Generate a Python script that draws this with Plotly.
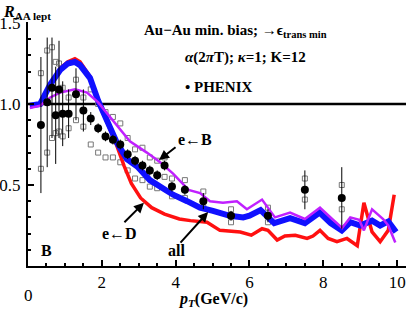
import plotly.graph_objects as go

# theory curves (R_AA of non-photonic electrons)
all_pt = [0.05, 0.33, 0.6, 0.87, 1.08, 1.27, 1.41, 1.68, 1.9, 2.14, 2.41, 2.68, 2.98, 3.3, 3.58,
          3.93, 4.31, 4.66, 5.01, 5.47, 5.83, 6.0, 6.3, 6.67, 7.1, 7.5, 7.9, 8.2, 8.5, 8.73,
          9.0, 9.32, 9.54, 9.76, 9.97]
all_raa = [0.99, 1.0, 1.12, 1.21, 1.25, 1.26, 1.24, 1.16, 1.02, 0.9, 0.76, 0.66, 0.61, 0.53, 0.49,
           0.44, 0.4, 0.36, 0.34, 0.31, 0.3, 0.31, 0.345, 0.265, 0.295, 0.265, 0.33, 0.265, 0.22, 0.27,
           0.25, 0.28, 0.25, 0.275, 0.21]

d_pt = [0.05, 0.33, 0.6, 0.87, 1.08, 1.27, 1.41, 1.68, 1.9, 2.14, 2.41, 2.6, 2.8, 3.05, 3.35,
        3.7, 4.1, 4.4, 4.85, 5.2, 5.75, 6.05, 6.34, 6.5, 6.75, 6.96, 7.24, 7.56, 7.72, 7.91,
        8.13, 8.37, 8.64, 8.92, 9.1, 9.32, 9.54, 9.76, 9.92]
d_raa = [0.99, 1.0, 1.12, 1.22, 1.26, 1.28, 1.26, 1.17, 1.02, 0.89, 0.74, 0.62, 0.51, 0.42, 0.36,
         0.32, 0.29, 0.28, 0.27, 0.22, 0.21, 0.19, 0.23, 0.22, 0.16, 0.185, 0.19, 0.17, 0.185, 0.22,
         0.17, 0.15, 0.17, 0.125, 0.39, 0.21, 0.15, 0.22, 0.44]

b_pt = [0.05, 0.33, 0.6, 0.87, 1.27, 1.6, 1.9, 2.22, 2.49, 2.76, 3.22, 3.58, 3.93, 4.35, 4.66,
        4.93, 5.28, 5.66, 5.93, 6.34, 6.69, 7.1, 7.5, 7.91, 8.24, 8.51, 8.73, 8.97, 9.1, 9.32,
        9.62, 9.76, 9.95]
b_raa = [0.975, 0.99, 1.04, 1.07, 1.09, 1.07, 1.01, 0.92, 0.85, 0.77, 0.7, 0.64, 0.57, 0.47, 0.45,
         0.4, 0.39, 0.4, 0.35, 0.41, 0.3, 0.33, 0.29, 0.36, 0.29, 0.235, 0.3, 0.285, 0.22, 0.35,
         0.29, 0.25, 0.145]

# PHENIX data
ph_pt = [0.35, 0.52, 0.65, 0.75, 0.84, 0.94, 1.1, 1.3, 1.5, 1.7, 1.9, 2.1, 2.3, 2.5, 2.7, 2.9,
         3.1, 3.3, 3.5, 3.7, 3.9, 4.25, 4.75, 5.5, 6.5, 7.5, 8.5]
ph_raa = [0.87, 1.01, 1.1, 0.93, 1.09, 0.94, 0.94, 1.06, 0.96, 0.91, 0.85, 0.8, 0.78, 0.75, 0.69,
          0.65, 0.62, 0.59, 0.56, 0.62, 0.49, 0.47, 0.4, 0.31, 0.31, 0.47, 0.42]
ph_err = [0.42, 0.4, 0.31, 0.3, 0.3, 0.2, 0.15, 0.16, 0.13, 0.04, 0.03, 0.03, 0.03, 0.03, 0.03,
          0.03, 0.03, 0.03, 0.03, 0.03, 0.03, 0.03, 0.05, 0.03, 0.04, 0.12, 0.19]
sys_hi = [1.19, 1.33, 1.35, 1.26, 1.25, 1.1, 1.04, 1.15, 1.04, 1.09, 1.0, 0.95, 0.92, 0.88, 0.79,
          0.72, 0.73, 0.67, 0.65, 0.67, 0.54, 0.53, 0.46, 0.35, 0.36, 0.54, 0.5]
sys_lo = [0.6, 0.7, 0.79, 0.82, 0.83, 0.8, 0.85, 0.9, 0.86, 0.75, 0.7, 0.67, 0.67, 0.64, 0.59,
          0.54, 0.53, 0.49, 0.48, 0.55, 0.43, 0.42, 0.36, 0.27, 0.27, 0.41, 0.35]

x_ticks = [2, 4, 6, 8, 10]
y_ticks = [0.5, 1.0, 1.5]
y_ticktext = ["0.5", "1.0", "1.5"]

FONT = "Liberation Serif"

fig = go.Figure()

# reference line at 1
fig.add_trace(go.Scatter(x=[0, 10.3], y=[1, 1], mode="lines",
                         line=dict(color="black", width=2.5), hoverinfo="skip"))

# systematic brackets
fig.add_trace(go.Scatter(x=ph_pt + ph_pt, y=sys_hi + sys_lo, mode="markers",
                         marker=dict(symbol="square-open", size=5, color="#777777",
                                     line=dict(width=1, color="#777777"))))

fig.add_trace(go.Scatter(x=d_pt, y=d_raa, mode="lines", line=dict(color="#ff1010", width=3.5)))
fig.add_trace(go.Scatter(x=all_pt, y=all_raa, mode="lines", line=dict(color="#1010ff", width=6)))
fig.add_trace(go.Scatter(x=b_pt, y=b_raa, mode="lines", line=dict(color="#c020ff", width=2.5)))

fig.add_trace(go.Scatter(x=ph_pt, y=ph_raa, mode="markers",
                         marker=dict(color="black", size=8),
                         error_y=dict(type="data", array=ph_err, color="black",
                                      thickness=1, width=0)))

ann = [
    dict(x=5.61, y=1.45, text="<b>Au\u2212Au min. bias; \u2192\u03f5<sub>trans min</sub></b>",
         font=dict(size=15)),
    dict(x=5.88, y=1.284, text="<b><i>\u03b1</i>(2<i>\u03c0</i>T); <i>\u03ba</i>=1; K=12</b>",
         font=dict(size=15)),
    dict(x=5.18, y=1.105, text="<b>\u2022 PHENIX</b>", font=dict(size=15)),
    dict(x=4.53, y=0.78, text="<b>e\u2190B</b>", font=dict(size=16)),
    dict(x=2.49, y=0.2, text="<b>e\u2190D</b>", font=dict(size=16)),
    dict(x=4.01, y=0.093, text="<b>all</b>", font=dict(size=16)),
    dict(x=0.49, y=0.093, text="<b>B</b>", font=dict(size=16)),
]
for a in ann:
    fig.add_annotation(xref="x", yref="y", showarrow=False, **a)

# labels outside the plot area (pixel placement via paper coords)
fig.add_annotation(xref="paper", yref="paper", x=-0.072, y=1.088, xanchor="left", yanchor="top",
                   text="<b><i>R</i><sub>AA lept</sub></b>", font=dict(size=16), showarrow=False)
fig.add_annotation(xref="paper", yref="paper", x=0.49, y=-0.09, yanchor="top",
                   text="<b><i>p<sub>T</sub></i>(GeV/c)</b>", font=dict(size=16), showarrow=False)
fig.add_annotation(xref="x", yref="paper", x=0, y=-0.075, yanchor="top",
                   text="0", font=dict(size=17), showarrow=False)

arrows = [(3.55, 0.654, 18, -14), (3.14, 0.39, -21, 21), (4.88, 0.333, -29, 32)]
for xa, ya, dx, dy in arrows:
    fig.add_annotation(x=xa, y=ya, xref="x", yref="y", ax=dx, ay=dy, text="",
                       showarrow=True, arrowhead=2, arrowsize=1, arrowwidth=2,
                       arrowcolor="black")

fig.update_layout(
    width=407, height=315,
    margin=dict(l=28, r=1, t=22, b=49),
    paper_bgcolor="white", plot_bgcolor="white",
    showlegend=False,
    font=dict(family=FONT, color="black", size=17),
    xaxis=dict(range=[0, 10.24], tickvals=x_ticks, showgrid=False, zeroline=False,
               automargin=False, showline=True, linecolor="black", linewidth=2,
               ticks="inside", ticklen=6, tickwidth=1.5, tickcolor="black",
               minor=dict(dtick=0.5, tick0=0, ticks="inside", ticklen=3, tickcolor="black")),
    yaxis=dict(range=[0, 1.506], tickvals=y_ticks, ticktext=y_ticktext, showgrid=False,
               zeroline=False, automargin=False, showline=True, linecolor="black", linewidth=2,
               ticks="inside", ticklen=6, tickwidth=1.5, tickcolor="black", ticklabelstandoff=2,
               minor=dict(dtick=0.1, tick0=0, ticks="inside", ticklen=3, tickcolor="black")),
)

# drop the default page margin so the figure sits at the window's corner
fig.write_html("out.html", config={"displayModeBar": False},
               post_script="document.body.style.margin='0';")
